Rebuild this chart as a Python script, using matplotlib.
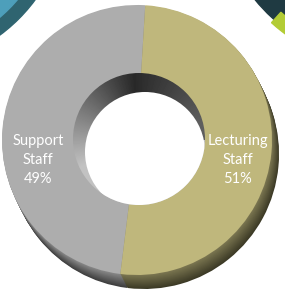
import numpy as np
import matplotlib
matplotlib.use("Agg")
import matplotlib.pyplot as plt
from matplotlib.patches import Circle, Wedge
from matplotlib.colors import to_rgb

# data
labels = ["Support\nStaff", "Lecturing\nStaff"]
shares = [49, 51]
face_colors = ["#adadad", "#bfb77c"]
side_dark = ["#3e3e3e", "#3c3a26"]
side_light = ["#8a8a8a", "#7d7852"]

W, H = 285, 295
fig = plt.figure(figsize=(W / 100, H / 100), dpi=100)
ax = fig.add_axes([0, 0, 1, 1])
ax.set_xlim(0, W)
ax.set_ylim(0, H)
ax.axis("off")


def py(y):
    # picture rows -> data y
    return H - y


# bits of the neighbouring charts in the corners
ax.add_patch(Wedge((-100, py(-100)), 168, 270, 360, width=14, color="#2f6470"))
ax.add_patch(Wedge((-100, py(-100)), 154, 270, 360, color="#4d9fbb"))
ax.add_patch(Wedge((400, py(-120)), 188, 200, 262, color="#1f3a42"))
ax.add_patch(Wedge((400, py(-120)), 192, 228, 236, width=14, color="#b3cc35"))

cx, cy = 137, 140
R, r_in = 135, 66
dx, dy = 7, 14

# extruded side of the ring
for t in np.linspace(1, 0.05, 14):
    cols = [tuple(np.array(to_rgb(d)) * t + np.array(to_rgb(l)) * (1 - t))
            for d, l in zip(side_dark, side_light)]
    ax.pie(shares, radius=R, center=(cx + t * dx, py(cy + t * dy)),
           startangle=86.5, counterclock=True, colors=cols,
           wedgeprops=dict(linewidth=0), frame=True)

# top face
wedges, _ = ax.pie(shares, radius=R, center=(cx, py(cy)), startangle=86.5,
                   counterclock=True, colors=face_colors,
                   wedgeprops=dict(linewidth=0), frame=True)

# inner wall with shading
wx, wy = cx + 2, cy - 1
yy, xx = np.mgrid[0:H, 0:W]
theta = np.degrees(np.arctan2(py(yy) - py(wy), xx - wx)) % 360
shade = np.clip((theta - 95) / 110, 0, 1)
shade = np.where(theta < 95, np.clip((95 - theta) / 80, 0, 1) * 0.35, shade)
img = 0.16 + 0.6 * shade
im = ax.imshow(img, cmap="gray", vmin=0, vmax=1, extent=(0, W, 0, H),
               origin="upper", zorder=3)
im.set_clip_path(Circle((wx, py(wy)), r_in, transform=ax.transData))

hole = Circle((145, py(152)), 60, color="white", zorder=4, lw=0)
ax.add_patch(hole)
hole.set_clip_path(Circle((wx, py(wy)), r_in, transform=ax.transData))

# labels
ax.text(38, py(160), f"{labels[0]}\n{shares[0]}%", color="white", fontsize=10.5,
        family="Lato", ha="center", va="center", linespacing=1.45, zorder=5)
ax.text(238, py(160), f"{labels[1]}\n{shares[1]}%", color="white", fontsize=10.5,
        family="Lato", ha="center", va="center", linespacing=1.45, zorder=5)

ax.set_xlim(0, W)
ax.set_ylim(0, H)
ax.set_aspect("equal")
ax.axis("off")
fig.savefig("out.png", dpi=100)
